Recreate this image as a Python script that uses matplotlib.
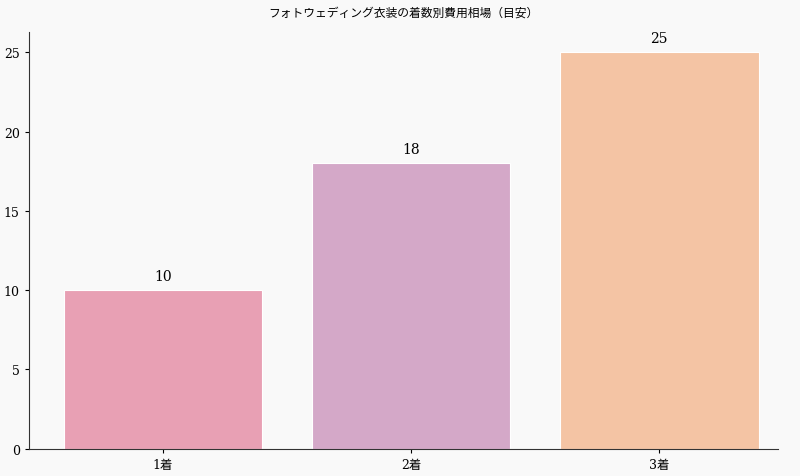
import matplotlib
matplotlib.use("Agg")
import matplotlib.pyplot as plt

plt.rcParams['font.family'] = ['DejaVu Serif', 'Noto Sans CJK JP']

categories = ["1着", "2着", "3着"]
costs = [10, 18, 25]
colors = ["#e8a0b4", "#d4a8c8", "#f4c4a4"]
title = "フォトウェディング衣装の着数別費用相場（目安）"

fig = plt.figure(figsize=(8, 4.77), dpi=100, facecolor="#f9f9f9")
ax = fig.add_axes([0.036, 0.057, 0.937, 0.873])
ax.set_facecolor("#f9f9f9")

bars = ax.bar(categories, costs, width=0.8, color=colors, edgecolor="white", linewidth=0.8)
for b, v in zip(bars, costs):
    ax.text(b.get_x() + b.get_width() / 2, v + 0.45, str(v), ha="center", va="bottom", fontsize=10)

ax.set_ylim(0, 26.25)
ax.set_xlim(-0.54, 2.48)
ax.set_title(title, fontsize=8.5, pad=12)
ax.tick_params(labelsize=9, length=3)
for s in ["top", "right"]:
    ax.spines[s].set_visible(False)
for s in ["left", "bottom"]:
    ax.spines[s].set_color("#333333")

fig.savefig("out.png", dpi=100, facecolor=fig.get_facecolor())
